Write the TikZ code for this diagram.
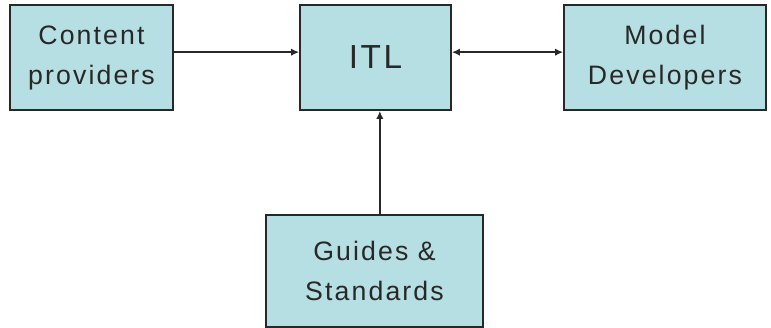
\documentclass[tikz,border=0pt]{standalone}
\usepackage{fontspec}
\setmainfont{Liberation Sans}[LetterSpace=8]
\usetikzlibrary{positioning,arrows.meta}

\definecolor{boxfill}{RGB}{182,223,227}
\definecolor{boxline}{RGB}{40,40,40}

\tikzset{
  block/.style={draw=boxline, fill=boxfill, line width=1.3pt, inner sep=0pt,
    align=center, text=boxline, font=\fontsize{20}{30}\selectfont},
  link/.style={draw=boxline, line width=1.3pt, >={Latex[length=6pt,width=5.5pt]}}
}

\begin{document}
\begin{tikzpicture}[x=0.75pt,y=-0.75pt]
\useasboundingbox (0,0) rectangle (771,328);

\node[block, minimum width=163*0.75pt, minimum height=105*0.75pt] (cont) at (91.5,57.5) {Content\\providers};
\node[block, minimum width=151*0.75pt, minimum height=105*0.75pt, font=\fontsize{25}{30}\selectfont] (itl) at (375.5,57.5) {ITL};
\node[block, minimum width=202*0.75pt, minimum height=105*0.75pt] (model) at (665,57.5) {Model\\Developers};
\node[block, minimum width=217*0.75pt, minimum height=112*0.75pt] (guide) at (374.5,271) {Guides \&\\Standards};

% arrows into ITL
\path[link,->] ([yshift=4pt]cont.east) -- ([yshift=4pt]itl.west);
\path[link,<->] ([yshift=4pt]itl.east) -- ([yshift=4pt]model.west);
\coordinate (gu) at ([xshift=4pt]guide.north);
\path[link,->] (gu) -- (gu |- itl.south);
\end{tikzpicture}
\end{document}
